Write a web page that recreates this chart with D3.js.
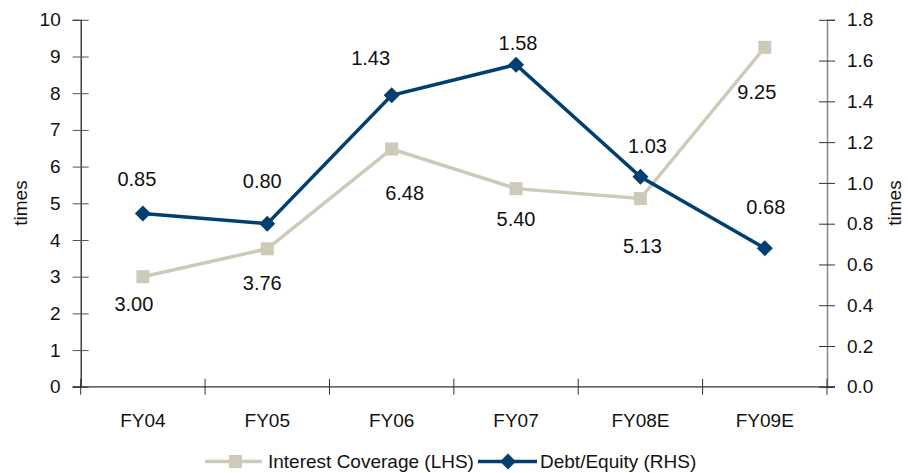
<!DOCTYPE html>
<html>
<head>
<meta charset="utf-8">
<script src="https://cdn.jsdelivr.net/npm/d3@7"></script>
<style>
  html, body { margin: 0; padding: 0; background: #fff; }
  svg text { font-family: "Liberation Sans", Arial, sans-serif; fill: #111; }
</style>
</head>
<body>
<div id="chart"></div>
<script>
// Chart data.
const categories = ["FY04", "FY05", "FY06", "FY07", "FY08E", "FY09E"];
const interestCoverage = [3.00, 3.76, 6.48, 5.40, 5.13, 9.25];
const debtEquity = [0.85, 0.80, 1.43, 1.58, 1.03, 0.68];
const leftTicks = [0, 1, 2, 3, 4, 5, 6, 7, 8, 9, 10];
const rightTicks = [0, 0.2, 0.4, 0.6, 0.8, 1.0, 1.2, 1.4, 1.6, 1.8];
const seriesNames = ["Interest Coverage (LHS)", "Debt/Equity (RHS)"];

// Label nudges (px) so the value labels sit where the original put them.
const coverageLabelDx = [-9, -5, 13, 0, 2, -8];
const coverageLabelDy = [27, 34, 44, 30, 47, 44];
const debtLabelDx = [-6, -5, -21, 2, 7, 1];
const debtLabelDy = [-35, -43, -37, -22, -31, -41];

const totalWidth = 908;
const totalHeight = 473;
const plot = {left: 80.7, right: 827, top: 19.8, bottom: 386.8};

const grey = "#cdcab9";
const blue = "#003f70";

const svg = d3.select("#chart")
  .append("svg")
  .attr("width", totalWidth)
  .attr("height", totalHeight);

// Scales
const x = d3.scaleBand().domain(categories).range([plot.left, plot.right]).padding(0);
const yLeft = d3.scaleLinear().domain([0, 10]).range([plot.bottom, plot.top]);
const yRight = d3.scaleLinear().domain([0, 1.8]).range([plot.bottom, plot.top]);
const cx = d => x(d) + x.bandwidth() / 2;

// Left axis
const leftAxis = svg.append("g")
  .attr("transform", `translate(${plot.left},0)`)
  .call(d3.axisLeft(yLeft).tickValues(leftTicks).tickSize(8).tickPadding(12).tickFormat(d3.format("d")));
leftAxis.select(".domain").attr("stroke", "#111").attr("stroke-width", 1.2);
leftAxis.selectAll(".tick line").attr("x1", -8).attr("x2", 8).attr("stroke", "#555");
leftAxis.selectAll(".tick text").style("font-size", "19px").attr("fill", "#111");

// Right axis
const rightAxis = svg.append("g")
  .attr("transform", `translate(${plot.right},0)`)
  .call(d3.axisRight(yRight).tickValues(rightTicks).tickSize(8).tickPadding(12).tickFormat(d3.format(".1f")));
rightAxis.select(".domain").attr("stroke", "#888").attr("stroke-width", 1.5);
rightAxis.selectAll(".tick line").attr("x1", -8).attr("x2", 8).attr("stroke", "#333");
rightAxis.selectAll(".tick text").style("font-size", "19px").attr("fill", "#111");

// Bottom axis: boundary ticks between categories, labels centred in bands
const boundaries = categories.map(c => x(c)).concat([x(categories[categories.length - 1]) + x.bandwidth()]);
svg.append("line")
  .attr("x1", plot.left - 8).attr("x2", plot.right + 8)
  .attr("y1", plot.bottom).attr("y2", plot.bottom)
  .attr("stroke", "#333").attr("stroke-width", 1.2);
svg.selectAll(".xtick")
  .data(boundaries)
  .join("line")
    .attr("class", "xtick")
    .attr("x1", d => d).attr("x2", d => d)
    .attr("y1", plot.bottom - 8).attr("y2", plot.bottom + 8)
    .attr("stroke", "#333");
svg.selectAll(".xlabel")
  .data(categories)
  .join("text")
    .attr("class", "xlabel")
    .attr("x", d => cx(d))
    .attr("y", 427)
    .attr("text-anchor", "middle")
    .style("font-size", "19px")
    .text(d => d);

// Axis titles
svg.append("text")
  .attr("transform", "translate(27,203) rotate(-90)")
  .attr("text-anchor", "middle")
  .style("font-size", "19px")
  .text("times");
svg.append("text")
  .attr("transform", "translate(901,203) rotate(-90)")
  .attr("text-anchor", "middle")
  .style("font-size", "19px")
  .text("times");

// Series
const coverage = categories.map((c, i) => ({c, v: interestCoverage[i], i}));
const debt = categories.map((c, i) => ({c, v: debtEquity[i], i}));

svg.append("path")
  .datum(coverage)
  .attr("fill", "none")
  .attr("stroke", grey)
  .attr("stroke-width", 3.5)
  .attr("d", d3.line().x(d => cx(d.c)).y(d => yLeft(d.v)));

svg.selectAll(".cov-mark")
  .data(coverage)
  .join("rect")
    .attr("class", "cov-mark")
    .attr("x", d => cx(d.c) - 6.5)
    .attr("y", d => yLeft(d.v) - 6.5)
    .attr("width", 13)
    .attr("height", 13)
    .attr("fill", grey);

svg.append("path")
  .datum(debt)
  .attr("fill", "none")
  .attr("stroke", blue)
  .attr("stroke-width", 3.5)
  .attr("d", d3.line().x(d => cx(d.c)).y(d => yRight(d.v)));

const diamondPath = d3.symbol().type(d3.symbolSquare).size(128)();
svg.selectAll(".debt-mark")
  .data(debt)
  .join("path")
    .attr("class", "debt-mark")
    .attr("transform", d => `translate(${cx(d.c)},${yRight(d.v)}) rotate(45)`)
    .attr("d", diamondPath)
    .attr("fill", blue);

// Value labels
svg.selectAll(".cov-label")
  .data(coverage)
  .join("text")
    .attr("class", "cov-label")
    .attr("x", d => cx(d.c) + coverageLabelDx[d.i])
    .attr("y", d => yLeft(d.v) + coverageLabelDy[d.i])
    .attr("dy", "0.36em")
    .attr("text-anchor", "middle")
    .style("font-size", "20px")
    .text(d => d.v.toFixed(2));

svg.selectAll(".debt-label")
  .data(debt)
  .join("text")
    .attr("class", "debt-label")
    .attr("x", d => cx(d.c) + debtLabelDx[d.i])
    .attr("y", d => yRight(d.v) + debtLabelDy[d.i])
    .attr("dy", "0.36em")
    .attr("text-anchor", "middle")
    .style("font-size", "20px")
    .text(d => d.v.toFixed(2));

// Legend
const legendY = 461.5;
const legend1 = svg.append("g").attr("transform", `translate(205,${legendY})`);
legend1.append("line").attr("x1", 0).attr("x2", 57).attr("stroke", grey).attr("stroke-width", 3.5);
legend1.append("rect").attr("x", 24).attr("y", -6.5).attr("width", 13).attr("height", 13).attr("fill", grey);
legend1.append("text").attr("x", 63).attr("dy", "0.35em").style("font-size", "19px").text(seriesNames[0]);

const legend2 = svg.append("g").attr("transform", `translate(478,${legendY})`);
legend2.append("line").attr("x1", 0).attr("x2", 59).attr("stroke", blue).attr("stroke-width", 3.5);
legend2.append("path")
  .attr("transform", "translate(30,0) rotate(45)")
  .attr("d", diamondPath)
  .attr("fill", blue);
legend2.append("text").attr("x", 62).attr("dy", "0.35em").style("font-size", "19px").text(seriesNames[1]);
</script>
</body>
</html>
